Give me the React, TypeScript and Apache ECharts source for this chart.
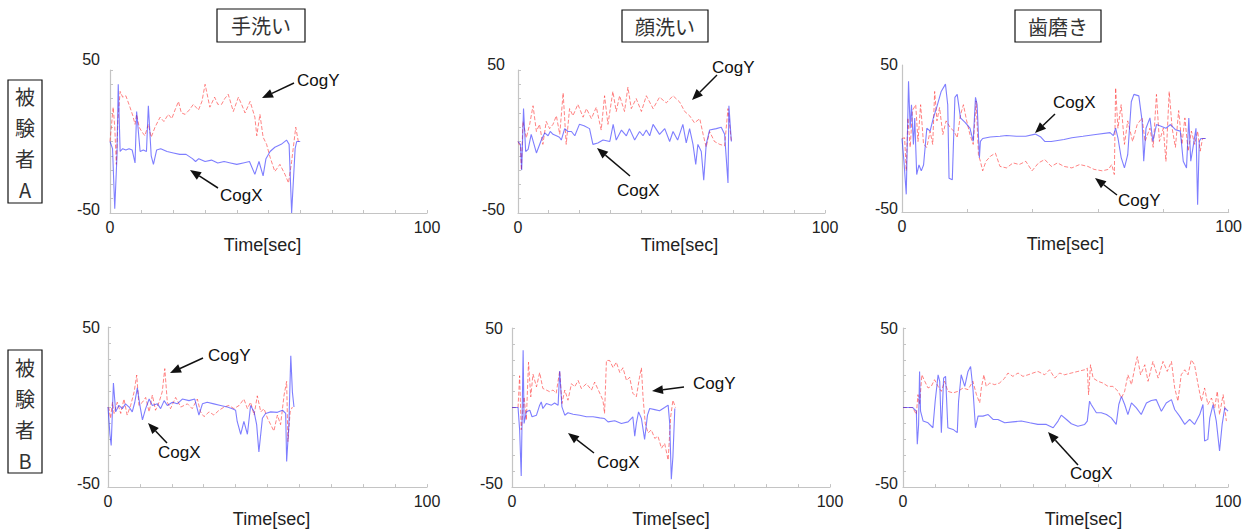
import React, { useEffect, useRef } from "react";
import * as echarts from "echarts";

// ---------- data (time [sec], value) ----------
const p1CogX = [[0,0],[0.8,-5],[1.5,-47],[2.2,-10],[2.6,40],[3.2,-7],[4,-5],[5,-6],[6,-5],[7,-6],[7.9,-15],[8.4,21],[9.5,-7],[10.5,-6],[11.5,-7],[12.1,25],[13,-10],[13.7,-16],[14.7,-6],[16,-5],[18,-7],[20,-8],[22,-9],[24,-9],[26,-12],[27,-14],[28,-12],[30,-14],[32,-13],[34,-15],[36,-14],[38,-15],[40,-16],[42,-15],[44,-14],[45.7,-23],[47,-14],[48.3,-24],[49.2,-12],[50.5,-7],[52,-4],[54,-2],[55.7,1],[56.5,-2],[57.3,-50],[58.4,-5],[58.9,0],[60,0]];
const p1CogY = [[0,0],[1,24],[1.5,10],[2,-16],[2.5,15],[3.2,35],[4,31],[5,32],[6.3,24],[7.2,18],[7.9,12],[8.4,19],[9.2,10],[10,7],[11,4],[12.1,12],[13,3],[14.2,10],[15.8,17],[17,14],[18.4,19],[19.5,16],[20.5,22],[21.6,28],[22.5,20],[23.7,19],[25,22],[26.3,26],[27.9,22],[29,28],[30,40],[31.5,24],[33,31],[34,26],[35.2,26],[36.2,30],[37.3,33],[38.9,21],[40.5,31],[41.5,26],[42.6,20],[44.2,28],[45.7,17],[46.3,4],[47.3,19],[48.3,3],[49.4,-2],[50.5,-11],[52,-21],[53.6,-16],[55.2,-23],[56.3,-29],[57.3,-14],[58.6,10],[59.4,0],[60,0]];

const p2CogX = [[0,0],[0.8,-2],[1.2,-20],[1.8,23],[2.5,-7],[3.3,-5.5],[4.3,5],[6,-8],[7.6,1],[8.7,6],[9.8,4],[10.5,7],[11.4,5],[12.5,4],[13.5,3],[14.1,1],[15.2,9],[16.3,7],[17.4,7],[18.5,4],[20,12],[21.5,11],[23.3,9],[24.4,-2],[26,-1],[27.7,1],[29.9,0],[31,12],[32,1],[33.7,8],[35.3,4],[36.3,9],[38,1],[39.6,7],[40.7,4],[41.8,8],[42.9,4],[44,12],[46.1,5],[47.8,9],[49.4,0],[50.5,7],[52,1],[53.7,12],[54.8,-1],[55.9,9],[57,-2],[57.9,-16],[58.6,-2],[59.7,-7],[60.5,-27],[61.3,-2],[62.4,8],[64.6,9],[66.2,10],[67.3,5],[68.4,-29],[68.7,25],[69.5,0]];
const p2CogY = [[0,0],[0.8,-4],[1.1,-20],[1.6,14],[2.7,2.5],[3.8,12],[4.9,25],[6,7],[7,12],[8.1,-2],[9.2,14],[10.3,9],[11.4,12],[12.5,18],[13.6,5],[14.7,34],[15.7,-2],[16.8,23],[17.9,18],[19.5,26],[21.2,17],[22.3,23],[23.9,16],[25.5,24],[27.1,8],[28.2,32],[29.3,12],[30.9,35],[32,21],[33.1,32],[34.7,21],[35.8,38],[36.9,23],[38.5,30],[40.2,21],[41.8,32],[44,23],[46.1,31],[48.3,27],[50.5,32],[52.7,27.5],[54.3,21],[55.9,18],[57.5,13],[59.2,16],[60.3,5],[61.3,-4],[62.4,7],[64,0],[65.7,-2],[67.3,-3],[68.4,23],[69.5,0]];

const p3CogX = [[0,0],[0.6,-15.5],[1.3,-38],[2,39],[2.5,7],[2.9,23],[3.5,-4],[3.9,14],[4.5,-24.5],[5.2,-18],[5.9,-22],[6.6,-18],[7.6,7],[8.6,5],[9.6,14],[10.6,21],[12,32],[13.3,37],[14,23],[14.4,-27],[15.4,-28],[16.2,28],[16.9,30],[17.9,14],[19.3,11],[20.8,7],[21.8,-2],[22.5,28],[23,23],[23.7,-13],[24,-2],[24.7,0],[27,1],[30,1.5],[32,2],[35,1.5],[37.9,1.5],[40.8,3],[42.5,1],[43.7,-2],[45.7,-2],[49.6,-0.7],[52,0.5],[55.4,1.5],[59.3,2.7],[63.7,4],[64.7,2],[65.4,7],[66.1,0.5],[67.1,-13],[68.1,-20],[69.1,-11],[70.2,25],[71,30],[72.5,29],[73.5,12],[74,-15.5],[74.7,7],[75.9,14],[76.8,-2],[77.9,9.5],[79.3,8.4],[80.8,7],[82.2,9.5],[83.7,6],[85.2,5],[86.1,-15.5],[87.1,-20],[87.8,14],[88.4,-15.5],[89.1,-6],[90,7],[90.5,-45],[91,-2],[91.5,0],[93,0]];
const p3CogY = [[0,0],[0.8,0.5],[1.3,-22],[1.8,14],[2.5,-6],[3.2,19],[4.2,23],[4.9,-2],[5.7,23],[6.6,-4],[7.6,-6],[8.6,5],[9.4,-4],[10,32],[10.7,12],[11.5,21],[12.5,2.7],[13.5,12],[14.9,7],[15.9,5],[16.9,0.5],[17.9,16],[18.8,23],[19.8,12],[20.8,2.7],[21.8,-4],[22.7,25.5],[23.4,-11],[24,-15.5],[24.7,-22],[25.7,-15.5],[27.1,-12],[28.6,-10],[30,-19],[32,-20],[34,-16.6],[35.9,-17.7],[37.9,-15.5],[39.8,-22],[41.8,-16.6],[43.7,-14.3],[45.7,-19],[47.6,-16.6],[49.6,-19],[52,-20],[54.4,-17.7],[56.9,-19],[58.8,-21],[61.3,-22],[63.2,-21],[64.2,-17.7],[65,-24.5],[65.4,34.5],[66.1,7],[67.1,23],[68.1,-4],[69.1,12],[70.6,-2],[72,9.5],[73.5,14],[74.4,-2],[75.9,7],[76.9,-6],[77.9,30],[78.8,-2],[80,7],[80.8,-15.5],[81.8,32],[82.7,7],[83.7,-6],[84.7,19],[85.7,-4],[86.6,14],[87.6,-8.6],[88.6,5],[89.6,-4],[90.5,5],[91.3,-8.6],[92,0],[93,0]];

const p4CogX = [[0,0],[0.6,-17],[1,-24],[1.7,15],[2.4,-3],[3.4,1],[4.5,-1],[5.5,2],[6.6,0],[7.6,-3],[8.4,3],[9.2,12],[10,1],[10.8,-8],[11.8,-1],[12.9,5],[13.9,1],[15.5,2],[16.5,-1],[17.6,4],[18.6,1],[20.2,3],[21.7,2],[23.3,5],[25.4,4],[27.2,5],[28.5,-5],[29.6,2],[31.1,3],[33.2,2],[35.3,1],[37.4,0],[39,-1],[40,-2],[40.5,-9],[41.6,-17],[42.6,-9],[43.7,-17],[44.7,1],[45.8,-3],[46.6,-11],[47.3,-28],[48.4,-7],[49.4,-4],[51,-3],[53.1,-3.3],[54.7,-2],[55.7,-4],[56,-34],[56.7,-11],[57.3,32],[57.8,9.5],[58.3,0]];
const p4CogY = [[0,0],[0.3,-1],[0.8,-7],[1.4,3],[1.9,-4],[2.9,3],[4,-4],[5,5],[6,-5],[7.1,1],[8.2,9.5],[9,20],[9.7,1],[10.8,3],[11.8,6],[12.9,-3],[13.9,7.5],[14.9,-2],[16,3],[17,9.5],[17.8,24],[18.6,3],[19.6,-1],[21.2,6],[22.8,0],[24.9,2],[26.4,-1],[28,5],[29,-3],[30.1,-6],[31.7,-3],[33.2,-5],[34.8,-2],[36.4,0],[37.9,1],[39.5,-1],[41.1,1],[42.6,5],[43.7,-1],[44.7,3],[45.8,-5],[46.8,7],[47.9,-3],[48.9,-1],[50,-7],[51,-11],[52,-15],[53.1,-5],[54.1,-11],[55.2,7.5],[56,16],[56.4,-21.5],[57.1,-3],[57.8,0]];

const p5CogX = [[0,0],[1.9,0],[2.4,-14],[2.9,-43],[3.5,36],[3.8,-10],[4.5,-2.7],[5.6,-1.7],[6.3,-5.8],[7.7,-4.8],[8.7,1.5],[9.2,3.5],[9.7,-0.6],[10.8,2.5],[12.4,1.5],[13.4,2.9],[14.5,1.5],[15,23],[15.7,0.4],[16.6,-4.8],[17.6,-3.3],[19.2,-4.2],[21.3,-4.8],[23.4,-5.8],[25.5,-5.8],[27.6,-6.5],[29.1,-6.9],[30.2,-9],[32.3,-8.3],[34.4,-10],[36.5,-9],[38,-5.8],[38.6,-18],[39.1,-10],[39.8,-2.7],[40.7,-6.9],[41.7,-20],[42.6,-4.8],[43.3,-0.6],[44.9,-1.3],[46.4,-2],[48,0],[49.1,1.5],[49.6,-10],[50.1,-45],[50.6,-31],[51.2,-0.6]];
const p5CogY = [[0,0],[1.9,0],[2.4,20],[2.9,-14],[3.8,6.7],[4.5,-8],[5.2,28.5],[5.9,6.7],[6.6,21],[7.7,13],[8.7,22],[9.7,12],[10.8,11],[11.8,10],[12.9,11],[13.9,9],[15,23],[15.7,2.5],[16.6,11],[17.6,4.6],[18.7,15],[19.7,13],[20.8,17],[21.8,12],[23.4,15],[25,11],[26,16],[27.6,9],[28.6,4.6],[29.1,-3.7],[29.7,29.6],[30.7,29.6],[31.8,25],[32.8,28.5],[33.9,22],[34.9,25],[36,17],[37,19],[38,9],[39.1,6.7],[40.1,19],[40.7,25],[41.2,6.7],[41.9,-10],[42.8,-16],[43.8,-14],[44.9,-19.4],[45.9,-18],[47,-25.6],[48,-22.5],[49.1,-33],[49.9,-5.8],[50.6,4.6],[51.4,0]];

const p6CogX = [[0,0],[3,0],[4.1,-2.3],[4.4,-23],[4.8,-10.6],[5.1,22.7],[5.4,-2.3],[6.2,-8.5],[7.7,-9.6],[9.2,-12.7],[9.9,4],[10.8,20.6],[11.3,16.5],[11.8,-15.8],[12.5,18.5],[13.1,19.6],[13.8,-12.7],[15.4,-13.75],[16.7,-15.8],[17.1,4],[17.9,20.6],[19,13.3],[20,22.7],[20.8,25.8],[21.5,12.3],[22.3,-12.7],[23.1,-5.4],[24.6,-5.4],[26.2,-4.4],[27.7,-7.5],[29.2,-7.5],[31.3,-9.6],[33.8,-9],[36.4,-8.5],[39,-9.6],[41.5,-10.6],[44.1,-10.6],[46.2,-12.7],[47.7,-8.5],[48.7,-4.8],[50.3,-7.5],[51.8,-10.2],[53.8,-11.7],[55.9,-10.6],[56.7,-8.5],[57.4,4],[57.9,1.9],[59.5,-3.3],[61,-3.3],[62.6,-4.4],[64.1,-6.5],[65.6,-10.6],[66.4,1.9],[67.2,7],[68.2,1.9],[69.2,-4.4],[70.3,2.9],[71.8,-0.2],[73.3,-4.4],[74.9,2.9],[76.4,4.4],[77.9,5],[79.5,-2.3],[81,2.9],[82.6,5],[83.6,-1.25],[85.1,-5.4],[86.7,-10.6],[88.2,-7.5],[89.7,-10.6],[91.3,-4.4],[92.3,1.9],[92.8,-21],[93.8,-20],[94.4,-6.5],[95.4,1.9],[96.4,-8.5],[97.4,-27.3],[98.2,-10.6],[99,-0.2],[100,-2.3]];
const p6CogY = [[0,0],[3,0],[4.1,-4.4],[4.6,8.1],[5.1,1.9],[5.8,20.6],[6.7,16.5],[7.7,12.3],[8.7,13.3],[9.7,17.5],[10.8,13.3],[11.8,10.2],[12.8,16.5],[13.8,10.2],[15.4,9.2],[16.9,10.2],[18.5,12.3],[20,11.25],[21.5,16.5],[22.6,8.1],[23.6,2.9],[24.1,12.3],[24.9,20.6],[25.6,13.3],[26.7,15.4],[28.2,14.4],[29.7,15.4],[31.3,18.5],[32.3,21.7],[33.8,19.6],[35.4,21.7],[36.9,19.6],[38.5,20.6],[40,21.7],[41.5,22.7],[43.6,20.6],[45.1,23.75],[46.7,18.5],[48.2,21.7],[49.7,20.6],[51.8,21.7],[53.8,22.7],[55.9,23.75],[56.7,24.8],[57.1,8.1],[57.7,26.9],[58.5,18.5],[60,16.5],[61.5,15.4],[63.1,13.3],[64.6,13.3],[66.2,10.2],[67.2,6],[68.2,10.2],[69.2,20.6],[70.3,14.4],[71.3,24.8],[72.1,32],[73.1,20.6],[74.4,26.9],[75.4,16.5],[76.9,29],[78.5,18.5],[80,29],[81.3,22.7],[82.6,29],[83.6,12.3],[84.6,4],[85.6,20.6],[86.7,23.75],[87.7,20.6],[88.7,30],[89.7,26.9],[90.8,14.4],[91.8,4],[92.8,12.3],[93.8,1.9],[94.9,6],[95.9,-0.2],[96.7,10.2],[97.4,-4.4],[98.5,8.1],[99.5,-8.5]];

const columnTitles = ["手洗い", "顔洗い", "歯磨き"];
const rowTitles = ["被験者A", "被験者B"];
const xTickLabels = [0, 100];
const yTickLabels = [-50, 50];
const xAxisName = "Time[sec]";

const panelCogX = [p1CogX, p2CogX, p3CogX, p4CogX, p5CogX, p6CogX];
const panelCogY = [p1CogY, p2CogY, p3CogY, p4CogY, p5CogY, p6CogY];

// ---------- layout / style ----------
const FONT = "'Liberation Sans', Arial, Helvetica, sans-serif";
const JP = "'Noto Sans CJK JP', 'Noto Sans', sans-serif";
const TXT = "#222";
const AXIS = "#c4c4c4";

const layouts = [
  { left: 110, top: 70, width: 317, height: 143, xInt: 10, yInt: 10, yTick: true, gap: 18, shift: -6, yMargin: 10, topUp: 11 },
  { left: 518, top: 70, width: 307, height: 143, xInt: 10, yInt: 10, yTick: true, gap: 21, shift: 8, yMargin: 13, topUp: 6 },
  { left: 902, top: 65, width: 338, height: 147, xInt: 20, yInt: 50, yTick: false, gap: 23, shift: 0, yMargin: 4, topUp: 1 },
  { left: 108, top: 327, width: 319, height: 161, xInt: 10, yInt: 10, yTick: true, gap: 18, shift: 4, yMargin: 8, topUp: 0 },
  { left: 512, top: 328, width: 318, height: 161, xInt: 10, yInt: 10, yTick: true, gap: 17, shift: 0, yMargin: 9, topUp: 0 },
  { left: 903, top: 328, width: 325, height: 160, xInt: 10, yInt: 10, yTick: true, gap: 19, shift: 18, yMargin: 5, topUp: 0 },
];

const annotations = [
  { text: "CogY", x: 297, y: 80, ax: 294, ay: 83, bx: 262, by: 98 },
  { text: "CogX", x: 220, y: 195, ax: 218, ay: 188, bx: 190, by: 170 },
  { text: "CogY", x: 712, y: 67, ax: 717, ay: 75, bx: 692, by: 100 },
  { text: "CogX", x: 617, y: 190, ax: 630, ay: 176, bx: 597, by: 148 },
  { text: "CogX", x: 1053, y: 102, ax: 1055, ay: 114, bx: 1035, by: 133 },
  { text: "CogY", x: 1118, y: 200, ax: 1117, ay: 195, bx: 1095, by: 178 },
  { text: "CogY", x: 208, y: 355, ax: 203, ay: 358, bx: 170, by: 373 },
  { text: "CogX", x: 158, y: 452, ax: 167, ay: 443, bx: 148, by: 423 },
  { text: "CogY", x: 693, y: 383, ax: 684, ay: 387, bx: 652, by: 391 },
  { text: "CogX", x: 597, y: 462, ax: 594, ay: 453, bx: 568, by: 433 },
  { text: "CogX", x: 1070, y: 473, ax: 1078, ay: 465, bx: 1048, by: 432 },
];

const titleBoxes = [
  { x: 217, y: 9, w: 88, h: 33 },
  { x: 622, y: 10, w: 86, h: 32 },
  { x: 1015, y: 10, w: 86, h: 32 },
];
const rowBoxes = [
  { x: 8, y: 80, w: 34, h: 123, cy: 143 },
  { x: 8, y: 350, w: 34, h: 123, cy: 414 },
];

function arrow(x1: number, y1: number, x2: number, y2: number) {
  const dx = x2 - x1, dy = y2 - y1;
  const len = Math.hypot(dx, dy);
  const ux = dx / len, uy = dy / len;
  const hl = 11, hw = 4.5;
  const bx = x2 - ux * hl, by = y2 - uy * hl;
  return [
    { type: "line", shape: { x1, y1, x2: bx, y2: by }, style: { stroke: "#111", lineWidth: 1.5 } },
    {
      type: "polygon",
      shape: { points: [[x2, y2], [bx - uy * hw, by + ux * hw], [bx + uy * hw, by - ux * hw]] },
      style: { fill: "#111" },
    },
  ];
}

function buildOption() {
  const grid = layouts.map((l) => ({ left: l.left, top: l.top, width: l.width, height: l.height, containLabel: false }));
  const xAxis = layouts.map((l, i) => ({
    type: "value",
    gridIndex: i,
    min: 0,
    max: 100,
    interval: l.xInt,
    name: xAxisName,
    nameLocation: "middle",
    nameGap: l.gap,
    nameTextStyle: {
      fontFamily: FONT,
      fontSize: 18,
      color: TXT,
      verticalAlign: "top",
      padding: l.shift >= 0 ? [0, 0, 0, 2 * l.shift] : [0, -2 * l.shift, 0, 0],
    },
    axisLine: { show: true, onZero: false, lineStyle: { color: AXIS, width: 1.2 } },
    axisTick: { show: true, inside: true, length: 3, lineStyle: { color: AXIS } },
    splitLine: { show: false },
    axisLabel: {
      margin: 6,
      fontFamily: FONT,
      fontSize: 16,
      color: TXT,
      formatter: (v: number) => (xTickLabels.includes(v) ? String(v) : ""),
    },
  }));
  const yAxis = layouts.map((l, i) => ({
    type: "value",
    gridIndex: i,
    min: -50,
    max: 50,
    interval: l.yInt,
    axisLine: { show: true, onZero: false, lineStyle: { color: AXIS, width: 1.2 } },
    axisTick: { show: l.yTick, inside: true, length: 3, lineStyle: { color: AXIS } },
    splitLine: { show: false },
    axisLabel: {
      margin: l.yMargin,
      fontFamily: FONT,
      fontSize: 16,
      color: TXT,
      formatter: (v: number) =>
        v === yTickLabels[1] ? `{t|${v}}` : v === yTickLabels[0] ? `{b|${v}}` : "",
      rich: {
        t: { fontFamily: FONT, fontSize: 16, color: TXT, padding: [0, 0, 2 * l.topUp, 0] },
        b: { fontFamily: FONT, fontSize: 16, color: TXT, padding: [0, 0, 8, 0] },
      },
    },
  }));
  const series: any[] = [];
  layouts.forEach((_, i) => {
    series.push({
      type: "line",
      name: "CogY",
      xAxisIndex: i,
      yAxisIndex: i,
      data: panelCogY[i],
      showSymbol: false,
      lineStyle: { color: "rgba(255,50,50,0.6)", width: 1, type: [4, 2] },
      silent: true,
    });
    series.push({
      type: "line",
      name: "CogX",
      xAxisIndex: i,
      yAxisIndex: i,
      data: panelCogX[i],
      showSymbol: false,
      lineStyle: { color: "rgba(40,40,255,0.6)", width: 1.1 },
      silent: true,
    });
  });

  const graphic: any[] = [];
  titleBoxes.forEach((b, i) => {
    graphic.push({
      type: "rect",
      shape: { x: b.x, y: b.y, width: b.w, height: b.h },
      style: { fill: "#fff", stroke: "#111", lineWidth: 1.2 },
    });
    graphic.push({
      type: "text",
      x: b.x + b.w / 2,
      y: b.y + b.h / 2,
      style: { text: columnTitles[i], font: `20px ${JP}`, fill: "#333", align: "center", verticalAlign: "middle" },
    });
  });
  rowBoxes.forEach((b, i) => {
    graphic.push({
      type: "rect",
      shape: { x: b.x, y: b.y, width: b.w, height: b.h },
      style: { fill: "#fff", stroke: "#111", lineWidth: 1.2 },
    });
    graphic.push({
      type: "text",
      x: b.x + b.w / 2,
      y: b.cy,
      style: {
        text: rowTitles[i].split("").join("\n"),
        fontFamily: JP,
        fontSize: 20,
        lineHeight: 31,
        fill: "#333",
        align: "center",
        verticalAlign: "middle",
      },
    });
  });
  annotations.forEach((a) => {
    graphic.push({
      type: "text",
      x: a.x,
      y: a.y,
      style: { text: a.text, font: `17px ${FONT}`, fill: "#111", align: "left", verticalAlign: "middle" },
    });
    arrow(a.ax, a.ay, a.bx, a.by).forEach((g) => graphic.push(g));
  });

  return {
    animation: false,
    backgroundColor: "#fff",
    grid,
    xAxis,
    yAxis,
    series,
    graphic,
  };
}

export default function App() {
  const ref = useRef<HTMLDivElement>(null);
  useEffect(() => {
    if (!ref.current) return;
    const chart = echarts.init(ref.current, null, { renderer: "svg" });
    chart.setOption(buildOption() as any);
    return () => chart.dispose();
  }, []);
  return (
    <div
      ref={ref}
      style={{ position: "absolute", left: 0, top: 0, width: 1245, height: 529, background: "#fff" }}
    />
  );
}
